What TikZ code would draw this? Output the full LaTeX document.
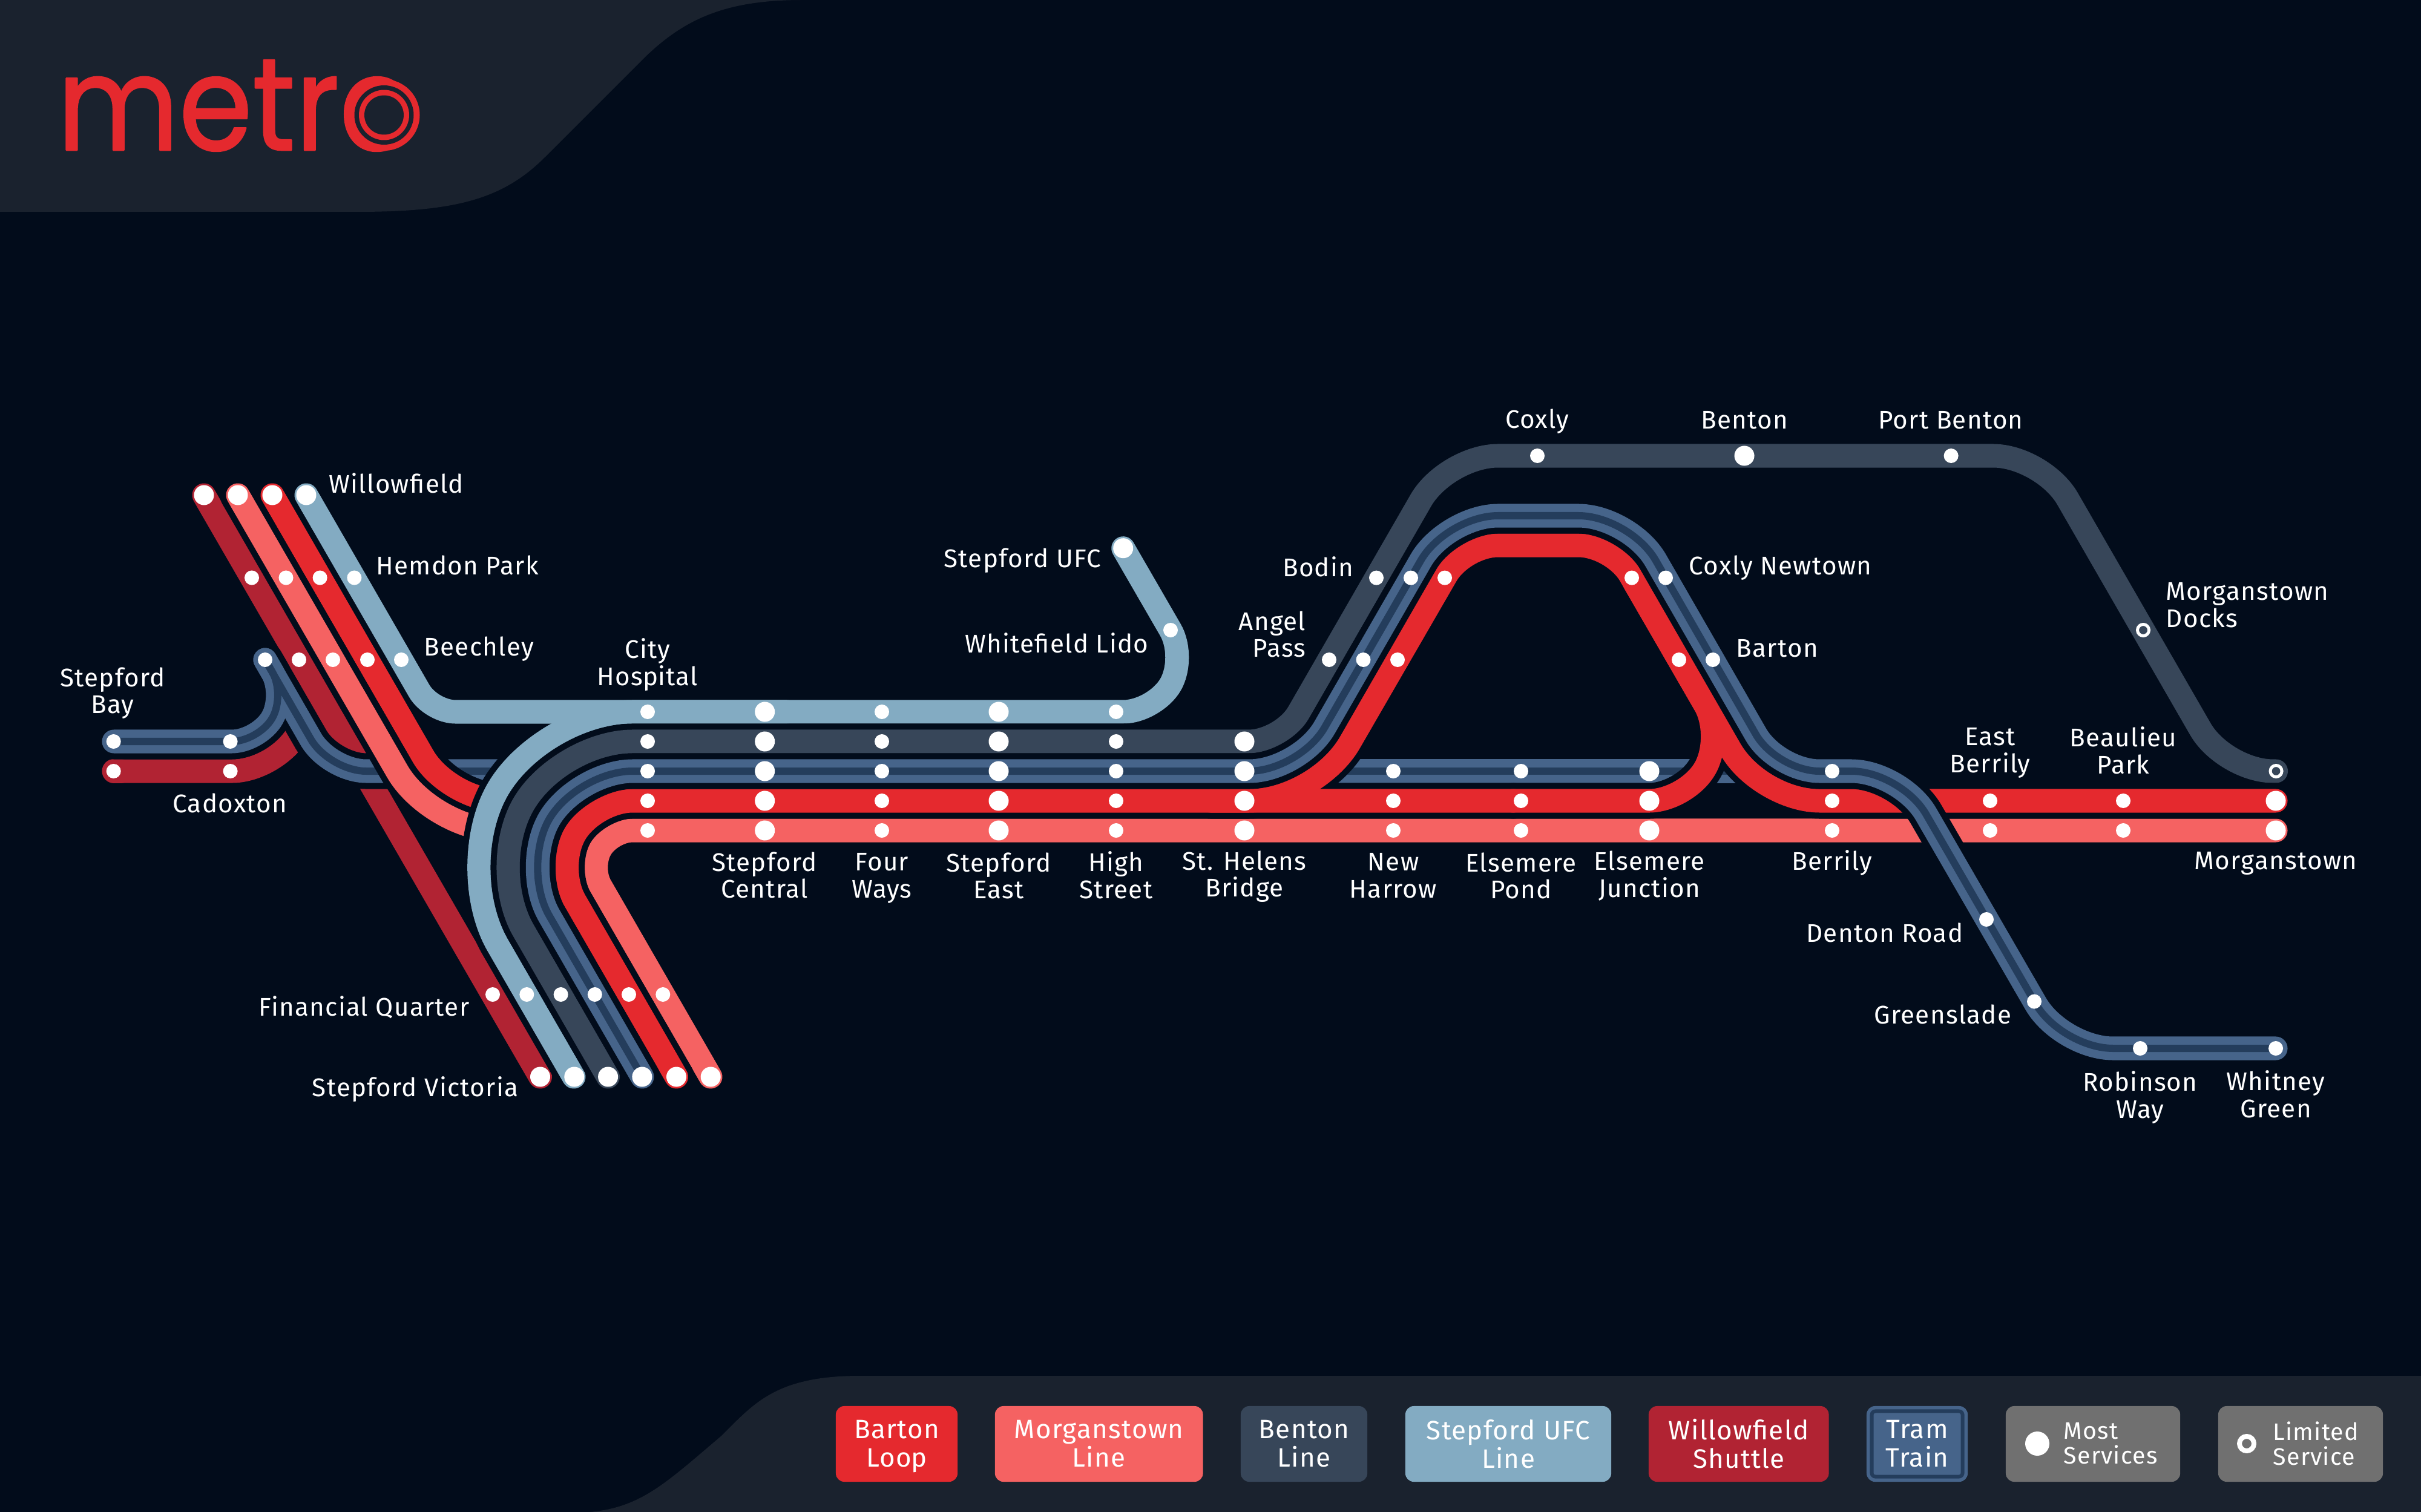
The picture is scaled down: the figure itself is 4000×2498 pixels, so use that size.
\documentclass[tikz,border=0pt]{standalone}
\usepackage{fontspec}
\setmainfont[LetterSpace=3]{Fira Sans}
\newfontfamily\logofont[FakeBold=1.2]{Poppins}
\def\px{0.28453pt}
\definecolor{bgc}{HTML}{020C1B}
\definecolor{panelc}{HTML}{1A222E}
\definecolor{redc}{HTML}{E5292E}
\definecolor{coralc}{HTML}{F56262}
\definecolor{bentonc}{HTML}{374659}
\definecolor{bluec}{HTML}{83ABC2}
\definecolor{tramo}{HTML}{46648A}
\definecolor{tramd}{HTML}{243D5C}
\definecolor{willc}{HTML}{B12333}
\definecolor{greyc}{HTML}{707070}
\tikzset{
  rc/.style={rounded corners=#1*\px},
  cas/.style={draw=bgc,line width=59*\px},
  solidtube/.style={draw=#1,line width=39*\px},
  tube/.style={preaction={cas},solidtube=#1},
  tramsolid/.style={solidtube=tramo,postaction={draw=tramd,line width=12*\px,line cap=butt}},
  tramtube/.style={preaction={cas},tramsolid},
  small/.style={circle,fill=white,inner sep=0pt,minimum size=24*\px},
  big/.style={circle,fill=white,inner sep=0pt,minimum size=33*\px},
  openstn/.style={circle,fill=bentonc,draw=white,line width=5*\px,inner sep=0pt,minimum size=19*\px},
  lab/.style={text=white,inner sep=0pt,align=center,font=\fontsize{12}{12.7}\selectfont},
  key/.style={text=white,inner sep=0pt,align=center,rounded corners=14*\px,minimum height=125*\px,
     font=\fontsize{12.5}{13.4}\selectfont},
  keysmall/.style={text=white,inner sep=0pt,align=left,font=\fontsize{11.2}{11.6}\selectfont},
}
\begin{document}
\begin{tikzpicture}[x=0.01cm,y=-0.01cm,line cap=round,line join=round]
\useasboundingbox (0,0) rectangle (4000,2498);
\fill[bgc] (0,0) rectangle (4000,2498);
% panels
\fill[panelc] (0,0) -- (1326,0) .. controls (1200,0) and (1130,30) .. (1060,100) -- (900,260)
   .. controls (830,330) and (750,350) .. (590,350) -- (0,350) -- cycle;
\fill[panelc] (975,2498) .. controls (1060,2490) and (1100,2450) .. (1191,2373)
   .. controls (1245,2320) and (1280,2273) .. (1421,2273) -- (4000,2273) -- (4000,2498) -- cycle;
% logo
\node[text=redc,inner sep=0pt,anchor=base west,font=\logofont\fontsize{61.7}{62}\selectfont,xscale=0.9,transform shape] (logo) at (94,248) {metro};
\fill[redc] (634.5,190) circle[radius=59];
\fill[panelc] (634.5,190) circle[radius=49];
\fill[redc] (634.5,190) circle[radius=41.5];
\fill[panelc] (634.5,190) circle[radius=32.5];
% willowfield + cadoxton
\draw[tube=willc] (337,818) -- (892.5,1779);
\draw[tube=willc,line cap=butt] (188,1274) [rc=72] -- (455.7,1274) -- (492,1211);
\draw[line cap=round,draw=willc,line width=39*\px] (188,1274) -- (200,1274);
% tram branches
\draw[cas] (188,1225) [rc=44.4] -- (427.4,1225) -- (472,1148) -- (438,1090);
\draw[cas] (438,1090) [rc=61] -- (544,1274) -- (850,1274);
\draw[solidtube=tramo] (188,1225) [rc=44.4] -- (427.4,1225) -- (472,1148) -- (438,1090);
\draw[solidtube=tramo] (438,1090) [rc=61] -- (544,1274) -- (850,1274);
\draw[tramd,line width=12*\px,line cap=butt] (188,1225) [rc=44.4] -- (427.4,1225) -- (472,1148) -- (438,1090);
\draw[tramd,line width=12*\px,line cap=butt] (438,1090) [rc=61] -- (544,1274) -- (850,1274);
% upper red and coral
\draw[tube=redc] (450,818) [rc=85] -- (741.4,1323) -- (826,1323);
\draw[tube=coralc] (393,818) [rc=113] -- (712.7,1372) -- (825,1372);
% stepford ufc line
\draw[tube=bluec] (948,1779) [rc=148.4] -- (748.2,1433) -- (896.6,1176) [rc=52] -- (1908,1176) -- (1960,1086) -- (1855.7,905.7);
\draw[solidtube=bluec] (506,818) [rc=40] -- (712.6,1176) -- (1300,1176);
% benton line
\draw[tube=bentonc] (1004.5,1779) [rc=120] -- (804.8,1433) -- (925,1225) [rc=55] -- (2118,1225) [rc=85] -- (2390,753) [rc=82] -- (3375,753) [rc=80] -- (3675.5,1274) -- (3760.5,1274);
% coral main
\draw[tube=coralc] (1174,1779) [rc=35] -- (974.5,1433) -- (1010,1372) -- (3760,1372);
% short tram
\draw[solidtube=tramo,line cap=butt,postaction={draw=tramd,line width=12*\px,line cap=butt}] (2190,1274) -- (2900,1274);
% barton loop
\draw[cas] (1117.5,1779) [rc=63.5] -- (918,1433) -- (981.5,1323) -- (2500,1323);
\draw[cas] (2000,1323) [rc=111] -- (2174,1323) [rc=57] -- (2418,901) -- (2665,901) [rc=61] -- (2847.5,1217) -- (2786,1323) -- (2500,1323);
\draw[cas] (2700,961.6) [rc=97.5] -- (2909,1323) -- (3760,1323);
\draw[solidtube=redc] (1117.5,1779) [rc=63.5] -- (918,1433) -- (981.5,1323) -- (2500,1323);
\draw[solidtube=redc] (2000,1323) [rc=111] -- (2174,1323) [rc=57] -- (2418,901) -- (2665,901) [rc=61] -- (2847.5,1217) -- (2786,1323) -- (2500,1323);
\draw[solidtube=redc] (2700,961.6) [rc=97.5] -- (2909,1323) -- (3760,1323);
% tram main
\draw[tramtube] (1061,1779) [rc=91.8] -- (861.4,1433) -- (953.2,1274) [rc=83] -- (2147,1274) [rc=85] -- (2390,852) -- (2693,852) [rc=70] -- (2936,1274) [rc=82] -- (3141,1274) [rc=85] -- (3406,1732) -- (3760,1732);
% stations
\foreach \x in {337,393,450,506}{\node[big] (top\x) at (\x,818) {};}
\foreach \x in {892.5,948.8,1004.6,1060.9,1117.5,1174.2}{\node[big] (bot\x) at (\x,1779) {};}
\foreach \x in {416,472.5,528.6,585.4}{\node[small] (ra\x) at (\x,954.5) {};}
\foreach \x in {438,494,550,607,663}{\node[small] (rb\x) at (\x,1090) {};}
\foreach \x in {814,870.3,926.6,982.8,1039,1095.3}{\node[small] (rc\x) at (\x,1643) {};}
\foreach \x/\y in {187.7/1225,187.7/1274,380.6/1225,380.6/1274}{\node[small] (w\x-\y) at (\x,\y) {};}
\foreach \y/\l in {1176/a,1225/b,1274/c,1323/d,1372/e}{
  \foreach \x in {1070,1457,1844}{\node[small] (m\l\x) at (\x,\y) {};}
  \foreach \x in {1263.7,1650}{\node[big] (m\l\x) at (\x,\y) {};}
}
\foreach \y/\l in {1225/b,1274/c,1323/d,1372/e}{\node[big] (m\l2056) at (2056,\y) {};}
\foreach \y/\l in {1274/c,1323/d,1372/e}{
  \foreach \x in {2302,2513,3027}{\node[small] (m\l\x) at (\x,\y) {};}
  \node[big] (m\l2725) at (2725,\y) {};
}
\foreach \y/\l in {1323/d,1372/e}{
  \foreach \x in {3288,3508}{\node[small] (m\l\x) at (\x,\y) {};}
  \node[big] (m\l3760) at (3760,\y) {};
}
\node[big] (ufc) at (1855.7,905.7) {};
\node[small] (lido) at (1934,1041) {};
\foreach \x/\y in {2196/1090,2274/954.6,2540/753,3223.6/753,2252.5/1090,2331/954.6,2752/954.6,2830/1090,3282/1519,3361/1654.6,3536/1732,3760/1732,2309/1090,2387/954.6,2696/954.6,2774/1090}{\node[small] (s\x-\y) at (\x,\y) {};}
\node[big] (bentonstn) at (2882,753) {};
\node[openstn] (docks) at (3541,1041) {};
\node[openstn] (mdocks) at (3760.5,1274) {};
% labels
\node[lab,anchor=west] (l1) at (543,798) {Willowfield};
\node[lab,anchor=west] (l2) at (621,934) {Hemdon Park};
\node[lab,anchor=west] (l3) at (700,1072) {Beechley};
\node[lab] (l4) at (1070,1094) {City\\Hos\smash{p}ital};
\node[lab] (l5) at (186,1141) {Stepford\\Ba\smash{y}};
\node[lab] (l6) at (380,1327) {Cadoxton};
\node[lab,anchor=east] (l7) at (776,1664) {Financial Quarter};
\node[lab,anchor=east] (l8) at (857,1800) {Stepford Victoria};
\node[lab,anchor=east] (l9) at (1820,926) {Stepford UFC};
\node[lab,anchor=east] (l10) at (1898,1062) {Whitefield Lido};
\node[lab] (l11) at (1263,1446) {Stepford\\Central};
\node[lab] (l12) at (1457,1447) {Four\\Wa\smash{y}s};
\node[lab] (l13) at (1650,1447) {Stepford\\East};
\node[lab] (l14) at (1844,1446) {High\\Street};
\node[lab] (l15) at (2056,1448) {St. Helens\\Bridge};
\node[lab] (l16) at (2302,1447) {New\\Harrow};
\node[lab] (l17) at (2513,1447) {Elsemere\\Pond};
\node[lab] (l18) at (2725,1447) {Elsemere\\Junction};
\node[lab] (l19) at (3027,1426) {Berrily};
\node[lab] (l20) at (3288,1240) {East\\Berril\smash{y}};
\node[lab] (l21) at (3508,1240) {Beaulieu\\Park};
\node[lab] (l22) at (3760,1426) {Morganstown};
\node[lab,anchor=east] (l23) at (3244,1541) {Denton Road};
\node[lab,anchor=east] (l24) at (3324,1676) {Greenslade};
\node[lab] (l25) at (3536,1809) {Robinson\\Wa\smash{y}};
\node[lab] (l26) at (3760,1808) {Whitney\\Green};
\node[lab,anchor=east] (l27) at (2237,936) {Bodin};
\node[lab,anchor=east,align=right] (l28) at (2158,1048) {Angel\\Pass};
\node[lab] (l29) at (2540,696) {Coxly};
\node[lab] (l30) at (2882,694) {Benton};
\node[lab] (l31) at (3223,694) {Port Benton};
\node[lab,anchor=west] (l32) at (2790,938) {Coxly Newtown};
\node[lab,anchor=west] (l33) at (2868,1071) {Barton};
\node[lab,anchor=west,align=left] (l34) at (3578,1000) {Morganstown\\Docks};
% legend
\node[key,fill=redc,minimum width=201*\px] (k1) at (1481.5,2385.5) {Barton\\Loo\smash{p}};
\node[key,fill=coralc,minimum width=343.5*\px] (k2) at (1815.7,2385.5) {Morganstown\\Line};
\node[key,fill=bentonc,minimum width=209*\px] (k3) at (2154.5,2385.5) {Benton\\Line};
\node[key,fill=bluec,minimum width=340*\px] (k4) at (2492,2385.5) {Stepford UFC\\Line};
\node[key,fill=willc,minimum width=297.5*\px] (k5) at (2872.7,2385.5) {Willowfield\\Shuttle};
\node[key,fill=tramo,minimum width=167*\px] (k6) at (3167.5,2385.5) {};
\node[key,fill=tramo,draw=tramd,line width=6*\px,rounded corners=6*\px,minimum width=150*\px,minimum height=108*\px] (k6b) at (3167.5,2385.5) {Tram\\Train};
\node[key,fill=greyc,minimum width=288*\px] (k7) at (3458,2385.5) {};
\node[key,fill=greyc,minimum width=272*\px] (k8) at (3801,2385.5) {};
\fill[white] (3366,2385) circle[radius=20];
\node[circle,draw=white,fill=greyc,line width=8*\px,inner sep=0pt,minimum size=24*\px] (ko) at (3712,2385) {};
\node[keysmall,anchor=west] (k7t) at (3409,2385) {Most\\Services};
\node[keysmall,anchor=west] (k8t) at (3755,2385) {Limited\\Service};
\end{tikzpicture}
\end{document}
